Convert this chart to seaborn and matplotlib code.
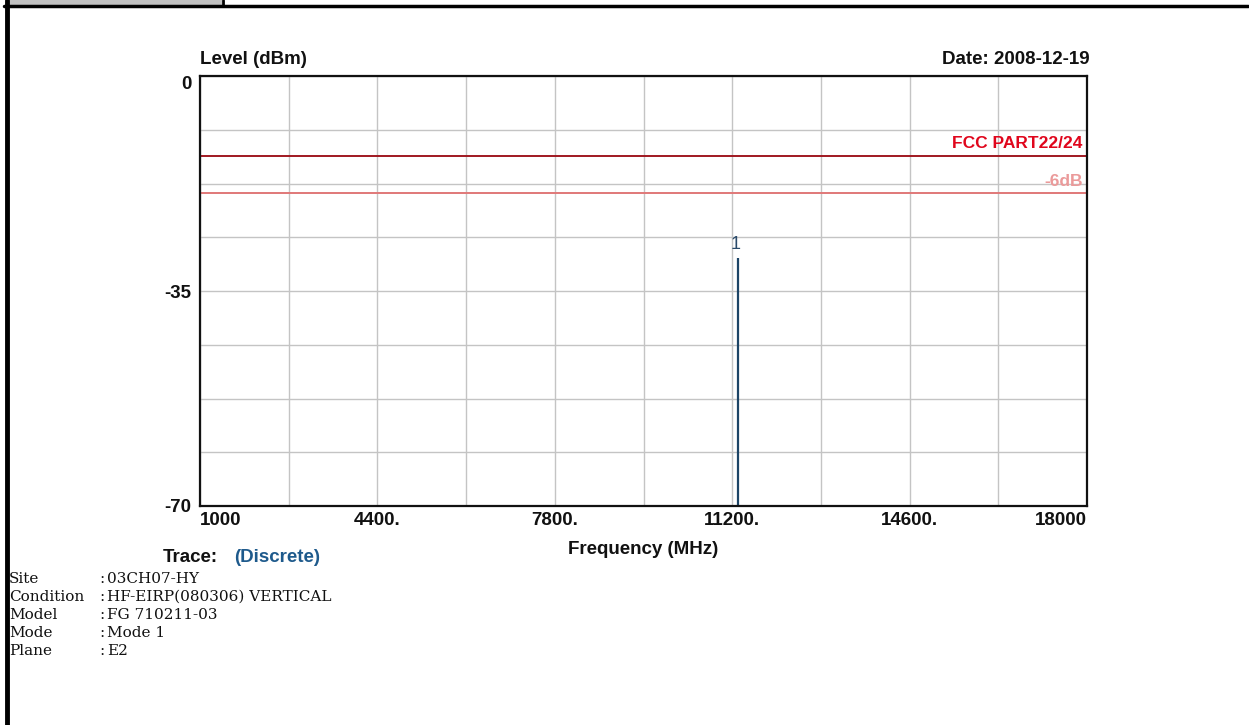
import numpy as np
import pandas as pd
import matplotlib
matplotlib.use("Agg")
import matplotlib.pyplot as plt
from matplotlib.lines import Line2D
from matplotlib.patches import Rectangle
import seaborn as sns

# Measurement span and axis setup
freq_range = [1000, 18000]          # MHz
level_range = [-70, 0]              # dBm
x_tick_values = [1000, 4400, 7800, 11200, 14600, 18000]
x_tick_labels = ["1000", "4400.", "7800.", "11200.", "14600.", "18000"]
y_tick_values = [0, -35, -70]
y_tick_labels = ["0", "-35", "-70"]

# Limit lines
limit_names = ["FCC PART22/24", "-6dB"]
limit_levels = [-13.0, -19.0]

# Discrete emission markers
marker_ids = ["1"]
marker_freqs = [11310.0]
marker_levels = [-29.6]

# Report header info
info_keys = ["Site", "Condition", "Model", "Mode", "Plane"]
info_vals = ["03CH07-HY", "HF-EIRP(080306) VERTICAL", "FG 710211-03", "Mode 1", "E2"]

sns.set_theme(style="white")
plt.rcParams["font.family"] = ["Liberation Sans", "DejaVu Sans"]

W, H = 1249, 725
fig = plt.figure(figsize=(W / 100, H / 100), dpi=100)
fig.patch.set_facecolor("white")

def fx(px):
    return px / W

def fy(py):
    return 1 - py / H

ax = fig.add_axes([fx(200), fy(506), fx(1087) - fx(200), fy(76) - fy(506)])
ax.set_facecolor("white")
ax.set_xlim(*freq_range)
ax.set_ylim(*level_range)

ax.set_xticks(x_tick_values)
ax.set_xticklabels(x_tick_labels)
ax.set_yticks(y_tick_values)
ax.set_yticklabels(y_tick_labels)

# Grid: 10 divisions across, 8 divisions down
ax.set_xticks(np.linspace(freq_range[0], freq_range[1], 11), minor=True)
ax.set_yticks(np.linspace(level_range[0], level_range[1], 9), minor=True)
ax.grid(which="both", color="#c4c4c4", linewidth=1.0)
ax.set_axisbelow(True)

ax.tick_params(which="both", length=0)
ax.tick_params(axis="x", pad=4, labelsize=13.5)
ax.tick_params(axis="y", pad=6, labelsize=13.5)
for lbl in ax.get_xticklabels() + ax.get_yticklabels():
    lbl.set_fontweight("bold")
    lbl.set_color("#111111")
xl = ax.get_xticklabels()
xl[0].set_horizontalalignment("left")
xl[-1].set_horizontalalignment("right")
yl = ax.get_yticklabels()
yl[0].set_verticalalignment("top")

for s in ax.spines.values():
    s.set_color("#111111")
    s.set_linewidth(1.6)
    s.set_visible(True)

# Limit lines drawn across the whole span
limit_colors = ["#a01820", "#e07878"]
limit_text_colors = ["#e0061c", "#eb9a9a"]
limits_df = pd.DataFrame({
    "freq": freq_range * len(limit_names),
    "level": np.repeat(limit_levels, 2),
    "name": np.repeat(limit_names, 2),
})
sns.lineplot(data=limits_df, x="freq", y="level", hue="name",
             palette=dict(zip(limit_names, limit_colors)),
             linewidth=1.4, legend=False, ax=ax)
text_offsets = [2.0, 1.9]
for name, lvl, tc, off in zip(limit_names, limit_levels, limit_text_colors, text_offsets):
    ax.text(17920, lvl + off, name, color=tc, fontsize=12.5, fontweight="bold",
            ha="right", va="center")

# Discrete emission spikes
spikes_df = pd.DataFrame({"freq": marker_freqs, "level": marker_levels, "id": marker_ids})
ax.vlines(spikes_df["freq"], level_range[0], spikes_df["level"], color="#1c4466", linewidth=1.6)
for _, r in spikes_df.iterrows():
    ax.text(r["freq"] - 50, r["level"] + 2.2, r["id"], color="#2a4a6a", fontsize=13,
            ha="center", va="center")

ax.set_xlabel("")
ax.set_ylabel("")

# Titles around the plot
fig.text(fx(200), fy(60), "Level (dBm)", fontsize=13.5, fontweight="bold",
         color="#111111", ha="left", va="center")
fig.text(fx(1090), fy(60), "Date: 2008-12-19", fontsize=13.5, fontweight="bold",
         color="#111111", ha="right", va="center")
fig.text(fx(643), fy(549), "Frequency (MHz)", fontsize=13.5, fontweight="bold",
         color="#111111", ha="center", va="center")
fig.text(fx(163), fy(557), "Trace:", fontsize=13.5, fontweight="bold",
         color="#111111", ha="left", va="center")
fig.text(fx(234), fy(557), "(Discrete)", fontsize=13.5, fontweight="bold",
         color="#1e5a8c", ha="left", va="center")

# Report info block
for i, (k, v) in enumerate(zip(info_keys, info_vals)):
    y = fy(579 + i * 18)
    fig.text(fx(9), y, k, fontsize=11, family=["DejaVu Serif"], color="#111111",
             ha="left", va="center")
    fig.text(fx(99), y, ":", fontsize=11, family=["DejaVu Serif"], color="#111111",
             ha="left", va="center")
    fig.text(fx(107), y, v, fontsize=11, family=["DejaVu Serif"], color="#111111",
             ha="left", va="center")

# Page frame: left bar, top rule and header tab
fig.add_artist(Rectangle((fx(10), fy(5)), fx(212), fy(0) - fy(5), transform=fig.transFigure,
                         facecolor="#c0c0c0", edgecolor="none"))
fig.add_artist(Line2D([fx(4), fx(1248)], [fy(6), fy(6)], transform=fig.transFigure,
                      color="black", linewidth=2.5))
fig.add_artist(Line2D([fx(6.5), fx(6.5)], [fy(0), fy(725)], transform=fig.transFigure,
                      color="black", linewidth=3.5))
fig.add_artist(Line2D([fx(223), fx(223)], [fy(0), fy(6)], transform=fig.transFigure,
                      color="black", linewidth=2))

fig.savefig("out.png", dpi=100, facecolor="white")
